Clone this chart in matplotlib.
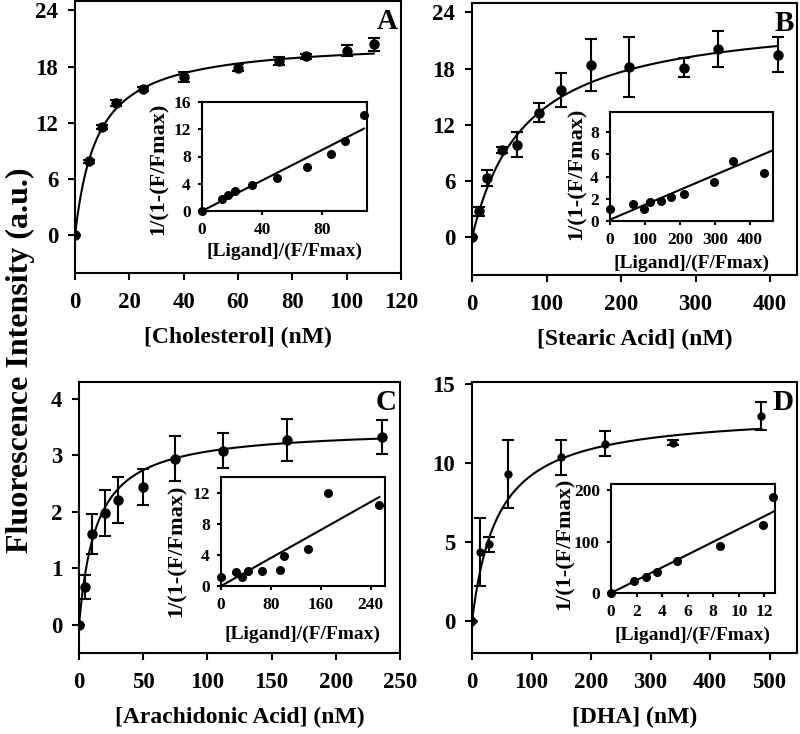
import numpy as np
import matplotlib
matplotlib.use('Agg')
import matplotlib.pyplot as plt

plt.rcParams['font.family'] = 'Liberation Serif'
plt.rcParams['font.weight'] = 'bold'

# Panel A - cholesterol
chol_x = [0, 5, 10, 15, 25, 40, 60, 75, 85, 100, 110]
chol_y = [0, 7.9, 11.6, 14.1, 15.6, 16.9, 17.9, 18.6, 19.1, 19.7, 20.4]
chol_err = [0, 0.2, 0.2, 0.3, 0.2, 0.5, 0.4, 0.4, 0.3, 0.6, 0.7]
chol_fit = (20.84, 8.19)  # Bmax, Kd
chol_in_x = [0, 13, 17, 22, 33, 50, 70, 86, 95, 108]
chol_in_y = [0, 1.7, 2.3, 3.0, 3.8, 4.8, 6.4, 8.3, 10.3, 14.1]
chol_in_line = (0.112, 0.0)  # slope, intercept

# Panel B - stearic acid
stea_x = [0, 10, 20, 40, 60, 90, 120, 160, 210, 285, 330, 410]
stea_y = [0, 2.8, 6.3, 9.3, 9.9, 13.3, 15.7, 18.4, 18.2, 18.1, 20.1, 19.5]
stea_err = [0, 0.5, 0.85, 0.3, 1.3, 1.0, 1.8, 2.8, 3.2, 1.0, 1.9, 1.9]
stea_fit = (24.0, 72.0)
stea_in_x = [0, 67, 98, 114, 146, 173, 212, 298, 352, 441]
stea_in_y = [1.05, 1.5, 1.1, 1.7, 1.8, 2.2, 2.4, 3.5, 5.4, 4.3]
stea_in_line = (0.0134, 0.12)

# Panel C - arachidonic acid
arac_x = [0, 5, 10, 20, 30, 50, 75, 112, 162, 236]
arac_y = [0, 0.67, 1.61, 1.98, 2.21, 2.44, 2.94, 3.08, 3.27, 3.33]
arac_err = [0, 0.21, 0.35, 0.4, 0.41, 0.32, 0.40, 0.31, 0.37, 0.30]
arac_fit = (3.49, 13.7)
arac_in_x = [0, 24, 34, 44, 65, 95, 101, 139, 172, 254]
arac_in_y = [1.1, 1.8, 1.2, 1.9, 1.9, 2.1, 3.8, 4.8, 12.0, 10.4]
arac_in_line = (0.045, 0.0)

# Panel D - DHA
dha_x = [0, 14, 29, 60, 150, 224, 337, 486]
dha_y = [0, 4.36, 4.85, 9.31, 10.36, 11.2, 11.27, 12.93]
dha_err = [0, 2.14, 0.5, 2.16, 1.1, 0.8, 0.15, 0.88]
dha_fit = (13.24, 43.6)
dha_in_x = [0, 1.8, 2.76, 3.62, 5.16, 8.54, 11.93, 12.66]
dha_in_y = [0, 22.7, 31.2, 41.6, 63, 91, 132, 186]
dha_in_line = (12.45, 0.0)

W, H = 800, 734
fig = plt.figure(figsize=(8, 7.34), dpi=100)


def rect(x0, y0, x1, y1):
    return [x0 / W, 1 - y1 / H, (x1 - x0) / W, (y1 - y0) / H]


def style(ax, size, lw=1.5, pad_x=9, pad_y=7, length=5):
    for s in ax.spines.values():
        s.set_linewidth(lw)
    ax.tick_params(direction='out', length=length, width=lw, labelsize=size)
    ax.tick_params(axis='x', pad=pad_x)
    ax.tick_params(axis='y', pad=pad_y)
    for lab in ax.get_xticklabels() + ax.get_yticklabels():
        lab.set_fontweight('bold')


panels = [
    dict(r=(75, 1, 401, 273), x=chol_x, y=chol_y, e=chol_err, fit=chol_fit,
         xlim=(0, 120), ylim=(-4, 25), xt=np.arange(0, 121, 20), yt=np.arange(0, 25, 6),
         xl='[Cholesterol] (nM)', letter='A', ms=6.5,
         ir=(202, 102, 367, 211), ix=chol_in_x, iy=chol_in_y, il=chol_in_line,
         ixlim=(0, 110), iylim=(0, 16), ixt=[0, 40, 80], iyt=[0, 4, 8, 12, 16],
         ylc=(-0.264, 0.385), xlc=-40),
    dict(r=(472, 3, 797, 275), x=stea_x, y=stea_y, e=stea_err, fit=stea_fit,
         xlim=(0, 436), ylim=(-4, 25), xt=np.arange(0, 401, 100), yt=np.arange(0, 25, 6),
         xl='[Stearic Acid] (nM)', letter='B', ms=6.5,
         ir=(610, 112, 773, 221), ix=stea_in_x, iy=stea_in_y, il=stea_in_line,
         ixlim=(0, 466), iylim=(0, 9.8), ixt=[0, 100, 200, 300, 400], iyt=[0, 2, 4, 6, 8],
         ylc=(-0.205, 0.43), xlc=-42),
    dict(r=(79, 382, 400, 653), x=arac_x, y=arac_y, e=arac_err, fit=arac_fit,
         xlim=(0, 245.6), ylim=(-0.5, 4.3), xt=np.arange(0, 251, 50), yt=np.arange(0, 5, 1),
         xl='[Arachidonic Acid] (nM)', letter='C', ms=6.5,
         ir=(221, 477, 385, 586), ix=arac_in_x, iy=arac_in_y, il=arac_in_line,
         ixlim=(0, 263), iylim=(0, 14), ixt=[0, 80, 160, 240], iyt=[0, 4, 8, 12],
         ylc=(-0.27, 0.32), xlc=-48),
    dict(r=(472, 382, 797, 653), x=dha_x, y=dha_y, e=dha_err, fit=dha_fit,
         xlim=(0, 546), ylim=(-2, 15.1), xt=np.arange(0, 501, 100), yt=np.arange(0, 16, 5),
         xl='[DHA] (nM)', letter='D', ms=5,
         ir=(611, 484, 775, 593), ix=dha_in_x, iy=dha_in_y, il=dha_in_line,
         ixlim=(0, 12.83), iylim=(0, 212), ixt=[0, 2, 4, 6, 8, 10, 12], iyt=[0, 100, 200],
         ylc=(-0.28, 0.45), xlc=-42),
]

for p in panels:
    ax = fig.add_axes(rect(*p['r']))
    bmax, kd = p['fit']
    xs = np.linspace(0, max(p['x']), 300)
    ax.plot(xs, bmax * xs / (kd + xs), color='black', lw=1.5, zorder=2)
    if p['letter'] == 'D':
        ax.errorbar(p['x'][1:], p['y'][1:], yerr=p['e'][1:], fmt='o', color='black',
                    ms=p['ms'], capsize=4.5, elinewidth=1.5, capthick=1.5, zorder=3)
        ax.plot(p['x'][:1], p['y'][:1], 'D', color='black', ms=5, zorder=3)
    else:
        ax.errorbar(p['x'], p['y'], yerr=p['e'], fmt='o', color='black',
                    ms=p['ms'], capsize=4.5, elinewidth=1.5, capthick=1.5, zorder=3)
    ax.set_xlim(*p['xlim'])
    ax.set_ylim(*p['ylim'])
    ax.set_xticks(p['xt'])
    ax.set_yticks(p['yt'])
    style(ax, 16.5)
    ax.set_xlabel(p['xl'], fontsize=17, fontweight='bold', labelpad=10)
    ax.text(0.99, 0.975, p['letter'], transform=ax.transAxes, ha='right', va='top',
            fontsize=21, fontweight='bold')

    ia = fig.add_axes(rect(*p['ir']))
    ia.plot(p['ix'], p['iy'], 'o', color='black', ms=5.5, zorder=3, clip_on=False)
    slope, icpt = p['il']
    lx = np.array([0, p['ix'][-1] if p['letter'] in ('A', 'C') else p['ixlim'][1]])
    ia.plot(lx, slope * lx + icpt, color='black', lw=1.5)
    ia.set_xlim(*p['ixlim'])
    ia.set_ylim(*p['iylim'])
    ia.set_xticks(p['ixt'])
    ia.set_yticks(p['iyt'])
    style(ia, 12.5, pad_x=5, pad_y=5, length=3)
    ia.set_xlabel('[Ligand]/(F/Fmax)', fontsize=14, fontweight='bold')
    ia.xaxis.set_label_coords(0.5, p['xlc'] / 109)
    ia.xaxis.label.set_va('center')
    ia.set_ylabel('1/(1-(F/Fmax)', fontsize=16, fontweight='bold')
    ia.yaxis.set_label_coords(*p['ylc'])
    ia.yaxis.label.set_va('center')

fig.text(0.025, 1 - 360 / H, 'Fluorescence Intensity (a.u.)', rotation=90,
         ha='center', va='center', fontsize=23, fontweight='bold')

fig.savefig('out.png', dpi=100)
